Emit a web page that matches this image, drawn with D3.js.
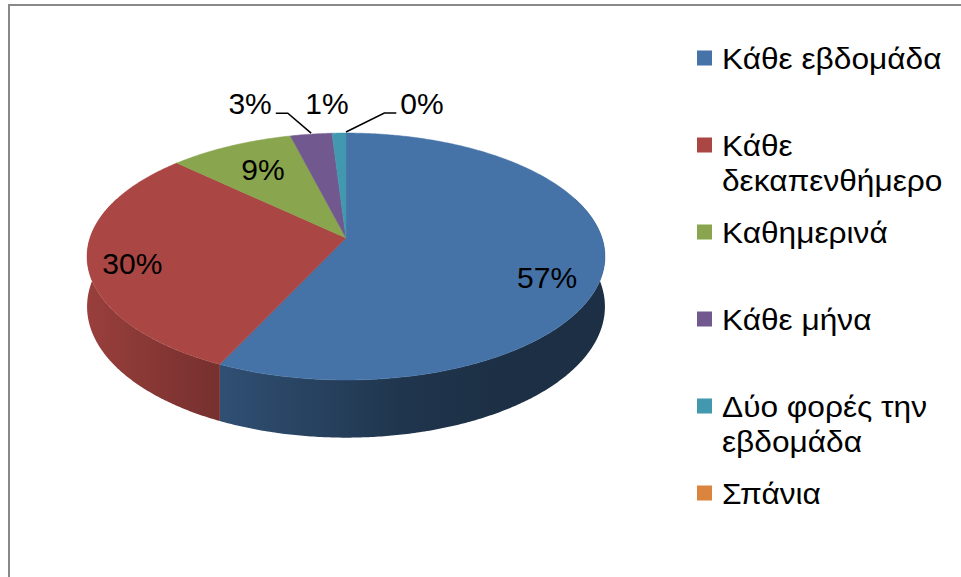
<!DOCTYPE html>
<html>
<head>
<meta charset="utf-8">
<script src="https://cdn.jsdelivr.net/npm/d3@7"></script>
<style>
  html, body { margin: 0; padding: 0; background: #fff; }
  svg { display: block; font-family: "Liberation Sans", Arial, sans-serif; }
</style>
</head>
<body>
<script>
// Categories and values, in slice order (clockwise from 12 o'clock).
const categories = ["Κάθε εβδομάδα", "Κάθε δεκαπενθήμερο", "Καθημερινά", "Κάθε μήνα", "Δύο φορές την εβδομάδα", "Σπάνια"];
const values = [57, 30, 9, 3, 1, 0];
const colors = ["#4572A7", "#AA4643", "#89A54E", "#71588F", "#4198AF", "#DB843D"];

// Label nudges relative to the projected slice point (layout only).
const labelNudge = [[9, 19], [-21, 8], [6, 3], [-61, -31], [-12, -30], [76, -30]];

const width = 961, height = 577;

// Pie geometry: centre, radii, perspective and thickness.
const cx = 346, cy = 238, rx = 256, ry = 120.7, persp = 0.15, depth = 49;

const svg = d3.select("body").append("svg")
  .attr("width", width)
  .attr("height", height);

// Chart frame (only left and top edges are inside the picture).
svg.append("path")
  .attr("d", "M9," + height + "V5H" + width)
  .attr("fill", "none")
  .attr("stroke", "#898989")
  .attr("stroke-width", 2);

const xScale = d3.scaleLinear().domain([-1, 1]).range([cx - rx, cx + rx]);
const yScale = d3.scaleLinear().domain([-1, 1]).range([cy - ry, cy + ry]);

// Project a point of the disk (angle from 12 o'clock, clockwise; radius 0..1).
function project(a, r, drop) {
  let u = r * Math.sin(a);
  let v = -r * Math.cos(a);
  let w = 1 - persp * v;
  return [xScale(u / w), yScale(v / w) + (drop ? depth / w : 0)];
}

function arcPoints(a0, a1, r, drop) {
  let n = Math.max(2, Math.ceil((a1 - a0) / (Math.PI / 360)));
  let pts = [];
  for (let i = 0; i <= n; i++) {
    pts.push(project(a0 + (a1 - a0) * i / n, r, drop));
  }
  return pts;
}

const pie = d3.pie().sort(null).value(d => d)
  .startAngle(0).endAngle(2 * Math.PI);
const slices = pie(values);

const line = d3.line();
const defs = svg.append("defs");

// Side walls get a horizontal shading gradient across the whole pie.
const shadeStops = [[0, 0.9], [0.26, 0.69], [0.6, 0.47], [0.8, 0.41], [1, 0.41]];
colors.forEach(function(c, i) {
  let base = d3.rgb(c);
  let grad = defs.append("linearGradient")
    .attr("id", "side" + i)
    .attr("gradientUnits", "userSpaceOnUse")
    .attr("x1", xScale(-1.02)).attr("x2", xScale(1.02))
    .attr("y1", 0).attr("y2", 0);
  shadeStops.forEach(function(s) {
    grad.append("stop")
      .attr("offset", s[0])
      .attr("stop-color", d3.rgb(base.r * s[1], base.g * s[1], base.b * s[1]).formatHex());
  });
});

const sideLo = Math.PI / 2 - 0.35, sideHi = 3 * Math.PI / 2 + 0.35;
const sides = svg.append("g");
const tops = svg.append("g");

slices.forEach(function(s, i) {
  if (s.endAngle - s.startAngle <= 0) return;

  // Outer wall (front part only).
  let a0 = Math.max(s.startAngle, sideLo), a1 = Math.min(s.endAngle, sideHi);
  if (a1 > a0) {
    let pts = arcPoints(a0, a1, 1, false).concat(arcPoints(a0, a1, 1, true).reverse());
    sides.append("path")
      .attr("d", line(pts) + "Z")
      .attr("fill", "url(#side" + i + ")");
  }

  // Top face.
  let top = [project(0, 0, false)].concat(arcPoints(s.startAngle, s.endAngle, 1, false));
  tops.append("path")
    .attr("d", line(top) + "Z")
    .attr("fill", colors[i])
    .attr("stroke", colors[i])
    .attr("stroke-width", 0.5);
});

// Data labels.
const total = d3.sum(values);
const labels = svg.append("g")
  .attr("font-size", 30)
  .attr("fill", "#000");

slices.forEach(function(s, i) {
  let mid = (s.startAngle + s.endAngle) / 2;
  let share = s.value / total;
  let outside = share < 0.05;
  let p = project(mid, outside ? 1 : 0.75, false);
  let lx = p[0] + labelNudge[i][0], ly = p[1] + labelNudge[i][1];
  let text = labels.append("text")
    .attr("x", lx)
    .attr("y", ly)
    .attr("dy", "0.35em")
    .attr("text-anchor", "middle")
    .text(Math.round(share * 100) + "%");

  // Leader line when the label sits away from its slice.
  if (outside && Math.abs(labelNudge[i][0]) > 30) {
    let half = text.node().getComputedTextLength() / 2;
    let dir = lx < p[0] ? 1 : -1;
    let edge = lx + dir * (half + 4);
    let ey = ly + 10;
    let elbow = edge + dir * 12;
    svg.append("path")
      .attr("d", line([[edge, ey], [elbow, ey], [p[0], p[1] - 1]]))
      .attr("fill", "none")
      .attr("stroke", "#000")
      .attr("stroke-width", 1.5);
  }
});

// Legend with wrapped entries; text is slightly widened like the original.
const legendX = 697, legendY = 58, legendStep = 87, lineH = 36, maxW = 232, stretch = 1.055;
const legend = svg.append("g")
  .attr("font-size", 30)
  .attr("fill", "#000");

categories.forEach(function(name, i) {
  let y = legendY + i * legendStep;
  legend.append("rect")
    .attr("x", legendX)
    .attr("y", y - 7.5)
    .attr("width", 15)
    .attr("height", 15)
    .attr("fill", colors[i]);

  let text = legend.append("text")
    .attr("transform", "translate(" + (legendX + 25) + "," + y + ") scale(" + stretch + ",1)")
    .attr("dy", "0.35em");
  let words = name.split(" ");
  let current = [];
  let tspan = text.append("tspan").attr("x", 0);
  words.forEach(function(word) {
    current.push(word);
    tspan.text(current.join(" "));
    if (tspan.node().getComputedTextLength() * stretch > maxW && current.length > 1) {
      current.pop();
      tspan.text(current.join(" "));
      current = [word];
      tspan = text.append("tspan")
        .attr("x", 0)
        .attr("dy", lineH)
        .text(word);
    }
  });
});
</script>
</body>
</html>
